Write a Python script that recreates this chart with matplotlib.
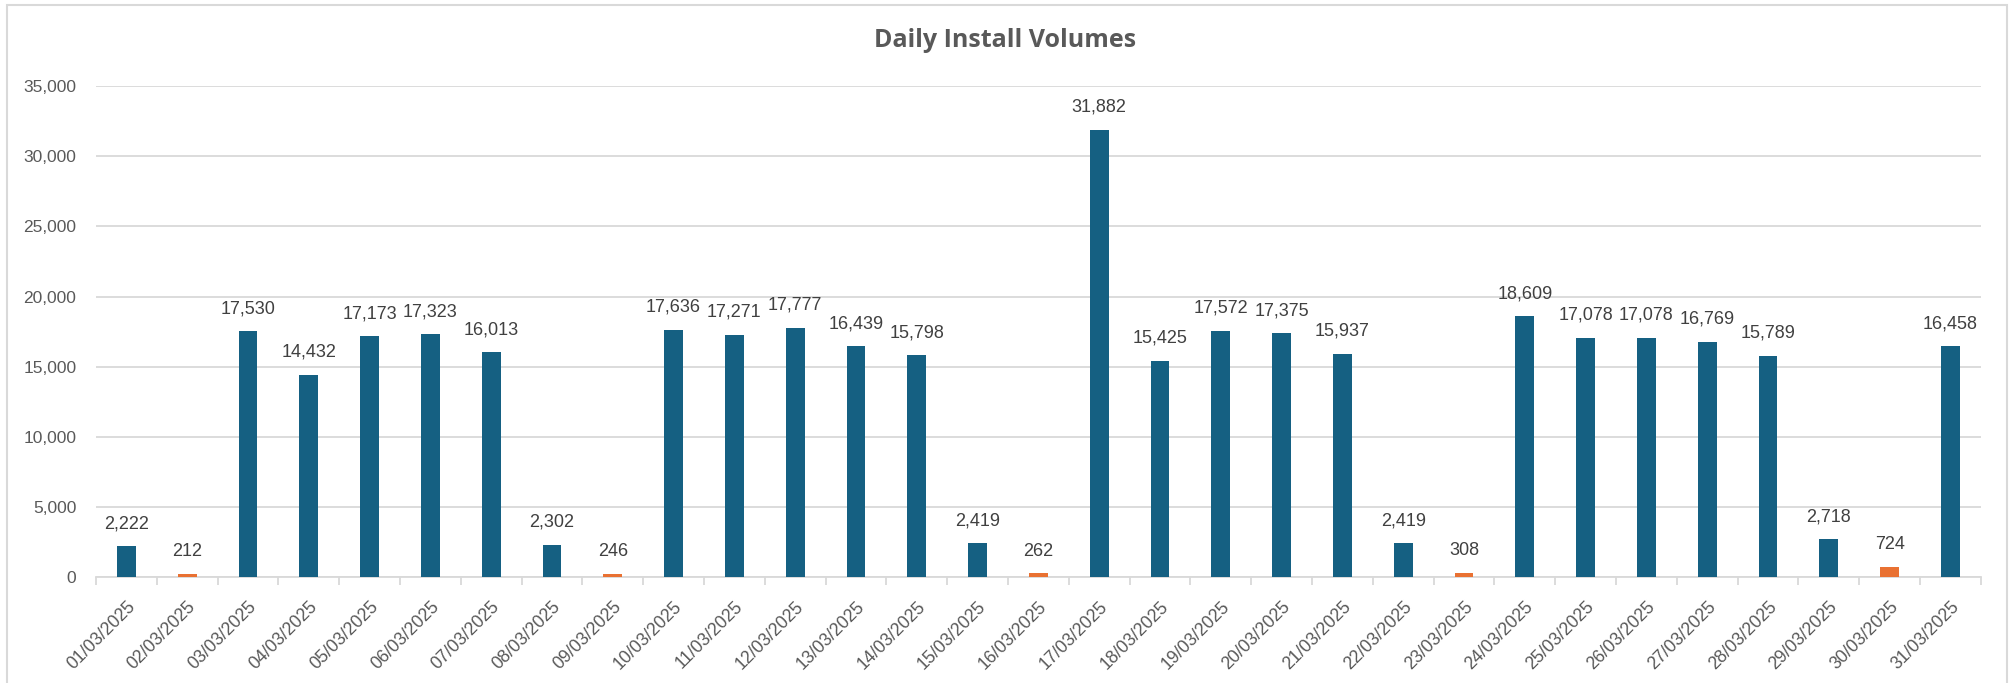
import matplotlib
matplotlib.use("Agg")
import matplotlib.pyplot as plt
import numpy as np
from matplotlib.patches import Rectangle
from matplotlib.ticker import FuncFormatter

# ----------------------------
# data
# ----------------------------
dates = [f"{d:02d}/03/2025" for d in range(1, 32)]
installs = [
    2222, 212, 17530, 14432, 17173, 17323, 16013, 2302, 246, 17636,
    17271, 17777, 16439, 15798, 2419, 262, 31882, 15425, 17572, 17375,
    15937, 2419, 308, 18609, 17078, 17078, 16769, 15789, 2718, 724,
    16458,
]
# Sundays are shown in orange
highlight_days = ["02/03/2025", "09/03/2025", "16/03/2025", "23/03/2025", "30/03/2025"]
y_ticks = [0, 5000, 10000, 15000, 20000, 25000, 30000, 35000]

BLUE = "#156082"
ORANGE = "#E97132"
GRID = "#D9D9D9"
TXT = "#595959"

plt.rcParams["font.family"] = ["Liberation Sans", "DejaVu Sans"]

fig = plt.figure(figsize=(20.11, 6.83), dpi=100)
ax = fig.add_axes([0.0477, 0.155, 0.9373, 0.719])

x = np.arange(len(dates))
colors = [ORANGE if d in highlight_days else BLUE for d in dates]
ax.bar(x, installs, width=0.31, color=colors, zorder=3)

# data labels
for xi, v in zip(x, installs):
    ax.annotate(f"{v:,}", xy=(xi, v), xytext=(0, 10), textcoords="offset points",
                ha="center", va="bottom", fontsize=13, color="#404040")

ax.set_xlim(-0.5, len(dates) - 0.5)
ax.set_ylim(0, 35000)
ax.set_yticks(y_ticks)
ax.yaxis.set_major_formatter(FuncFormatter(lambda v, p: f"{int(v):,}"))
ax.grid(axis="y", color=GRID, linewidth=1.3, zorder=0)

ax.set_xticks(x)
ax.set_xticklabels(dates, rotation=45, ha="right", rotation_mode="anchor")
ax.set_xticks(np.arange(-0.5, len(dates), 1.0), minor=True)
ax.tick_params(axis="x", which="major", length=0, pad=15, labelsize=12.7, labelcolor=TXT)
ax.tick_params(axis="x", which="minor", length=6, width=1.3, color=GRID, direction="out")
ax.tick_params(axis="y", length=0, pad=14, labelsize=12.5, labelcolor=TXT)

for s in ["top", "right", "left"]:
    ax.spines[s].set_visible(False)
ax.spines["bottom"].set_color(GRID)
ax.spines["bottom"].set_linewidth(1.3)

fig.text(0.5, 0.94, "Daily Install Volumes", ha="center", va="center",
         fontsize=18, fontweight="bold", color=TXT, family=["Open Sans", "DejaVu Sans"])

# outer chart border
fig.patches.append(Rectangle((0.0035, -0.01), 0.9945, 1.002, transform=fig.transFigure,
                             fill=False, edgecolor=GRID, linewidth=1.5))

fig.savefig("out.png", dpi=100)
plt.close(fig)
